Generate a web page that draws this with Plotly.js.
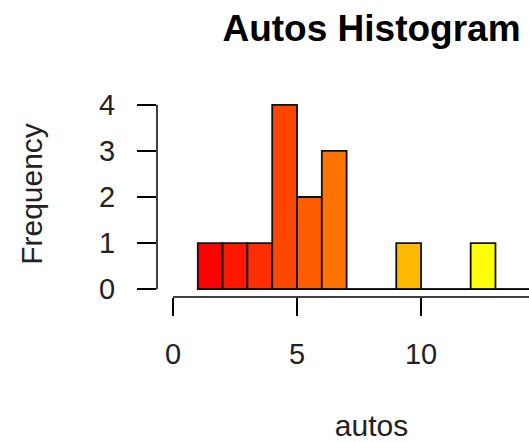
<!DOCTYPE html>
<html>
<head>
<meta charset="utf-8">
<script src="https://cdn.plot.ly/plotly-3.0.1.min.js"></script>
<style>
  html, body { margin: 0; padding: 0; overflow: hidden; background: #fff; }
  #chart { width: 586px; height: 442px; }
</style>
</head>
<body>
<div id="chart"></div>
<script>
// histogram breaks and counts (R hist of autos, breaks of width 1)
const binEdges = [1, 2, 3, 4, 5, 6, 7, 8, 9, 10, 11, 12, 13, 14, 15, 16];
const counts = [1, 1, 1, 4, 2, 3, 0, 0, 1, 0, 0, 1, 0, 0, 0];
// heat.colors(15)
const binColors = ['#FF0000', '#FF1700', '#FF2E00', '#FF4600', '#FF5D00', '#FF7400',
  '#FF8B00', '#FFA200', '#FFB900', '#FFD100', '#FFE800', '#FFFF00',
  '#FFFF2A', '#FFFF80', '#FFFFD5'];
const xTicks = [0, 5, 10];
const yTicks = [0, 1, 2, 3, 4];

const mids = counts.map((c, i) => (binEdges[i] + binEdges[i + 1]) / 2);
const widths = counts.map((c, i) => binEdges[i + 1] - binEdges[i]);

const font = 'Liberation Sans, Arial, Helvetica, sans-serif';

// empty bins show as a line along zero
const baseline = {
  x: [binEdges[0], binEdges[binEdges.length - 1]],
  y: [0, 0],
  type: 'scatter',
  mode: 'lines',
  line: {color: '#000', width: 1.5},
  hoverinfo: 'skip'
};

const bars = {
  x: mids,
  y: counts,
  width: widths,
  type: 'bar',
  marker: {color: binColors, line: {color: '#111', width: 1.8}}
};

const layout = {
  width: 586,
  height: 442,
  margin: {l: 157, r: 0, t: 91, b: 145, pad: 0},
  showlegend: false,
  paper_bgcolor: '#fff',
  plot_bgcolor: '#fff',
  font: {family: font, color: '#222'},
  title: {
    text: '<b>Autos Histogram</b>',
    font: {family: font, size: 37, color: '#000'},
    xref: 'paper', x: 0.5, xanchor: 'center',
    yref: 'container', y: 1 - 28 / 442, yanchor: 'middle'
  },
  xaxis: {
    range: [-0.645, 16.65],
    tickvals: xTicks,
    ticks: 'outside', ticklen: 18, tickwidth: 1.5, tickcolor: '#000',
    showgrid: false, zeroline: false, showline: false,
    tickfont: {size: 29},
    ticklabelstandoff: 13,
    title: {text: 'autos', font: {size: 30}, standoff: 47}
  },
  yaxis: {
    range: [-0.17, 4.3],
    tickvals: yTicks,
    ticks: 'outside', ticklen: 19, tickwidth: 1.5, tickcolor: '#000',
    showgrid: false, zeroline: false, showline: false,
    tickfont: {size: 29},
    ticklabelstandoff: 16,
    title: {text: 'Frequency', font: {size: 30}, standoff: 47}
  },
  // R style axis lines that run only between the end ticks
  shapes: [
    {type: 'line', xref: 'paper', x0: 0, x1: 0, yref: 'y',
     y0: yTicks[0], y1: yTicks[yTicks.length - 1], line: {color: '#000', width: 1.5}},
    {type: 'line', xref: 'x', x0: xTicks[0], x1: binEdges[binEdges.length - 1],
     yref: 'paper', y0: 0, y1: 0, line: {color: '#000', width: 1.5}}
  ]
};

Plotly.newPlot('chart', [baseline, bars], layout, {staticPlot: true});
</script>
</body>
</html>
